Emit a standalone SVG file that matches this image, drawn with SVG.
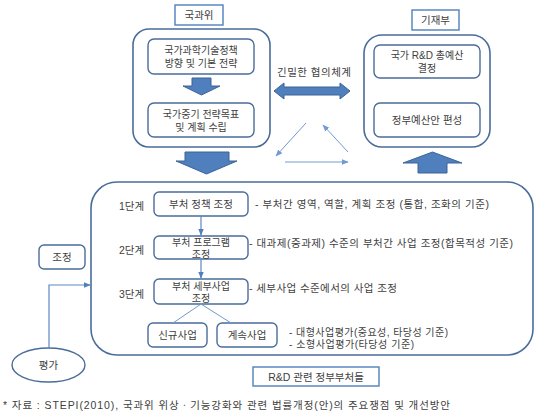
<svg xmlns="http://www.w3.org/2000/svg" width="542" height="416" viewBox="0 0 542 416">
<style>
text{font-family:"Liberation Sans","Noto Sans CJK KR",sans-serif;font-size:10.5px;fill:#404040}
.c{text-anchor:middle}
.s{font-size:10px}
.big{fill:#fff;stroke:#4a6c9b;stroke-width:1.6}
.inner{fill:#fff;stroke:#4a6c9b;stroke-width:1.4}
.lbl{fill:#fff;stroke:#4f81bd;stroke-width:1.4}
.blk{fill:#4f7fbd;stroke:#3d6496;stroke-width:1}
.thin{fill:none;stroke:#6f9bd0;stroke-width:1}
.ln{fill:none;stroke:#5a88c4;stroke-width:1.2}
</style>
<defs>
<marker id="ah" viewBox="0 0 10 10" refX="9" refY="5" markerWidth="7" markerHeight="7" orient="auto" markerUnits="userSpaceOnUse"><path d="M0,1 L10,5 L0,9 z" fill="#6f9bd0"/></marker>
<marker id="ah2" viewBox="0 0 10 10" refX="9" refY="5" markerWidth="7" markerHeight="7" orient="auto" markerUnits="userSpaceOnUse"><path d="M0,1 L10,5 L0,9 z" fill="#4f7fbd"/></marker>
</defs>

<g id="label-kukgwawi"><rect class="lbl" x="175" y="5" width="48" height="20"/><text class="c" x="199" y="19">국과위</text></g>
<g id="label-gijaebu"><rect class="lbl" x="412" y="10" width="47" height="20"/><text class="c" x="435.5" y="24">기재부</text></g>

<g id="kukgwawi-box"><rect class="big" x="133" y="29" width="137" height="118" rx="16"/></g>
<g id="node-policy"><rect class="inner" x="148" y="39" width="106" height="35" rx="6"/><text class="c s" x="201" y="54">국가과학기술정책</text><text class="c s" x="201" y="66.5">방향 및 기본 전략</text></g>
<g id="node-midterm"><rect class="inner" x="148" y="103" width="106" height="34" rx="6"/><text class="c s" x="201" y="118">국가중기 전략목표</text><text class="c s" x="201" y="130.5">및 계획 수립</text></g>

<g id="gijaebu-box"><rect class="big" x="364" y="35" width="126" height="112" rx="18"/></g>
<g id="node-total"><rect class="inner" x="374" y="45" width="106" height="33" rx="6"/><text class="c s" x="427" y="59">국가 R&amp;D 총예산</text><text class="c s" x="427" y="71.5">결정</text></g>
<g id="node-budget"><rect class="inner" x="374" y="103" width="106" height="34" rx="6"/><text class="c" x="427" y="124">정부예산안 편성</text></g>

<g id="depts-box"><rect class="big" x="91" y="182" width="442" height="173" rx="26"/></g>
<g id="label-depts"><rect class="lbl" x="253" y="367" width="126" height="19"/><text class="c" x="316" y="380.5">R&amp;D 관련 정부부처들</text></g>

<g id="stage1"><text x="119" y="210">1단계</text><rect class="inner" x="154" y="192" width="94" height="24" rx="5"/><text class="c" x="201" y="207.5">부처 정책 조정</text><text x="255" y="207.5" textLength="234">- 부처간 영역, 역할, 계획 조정 (통합, 조화의 기준)</text></g>
<g id="stage2"><text x="119" y="254">2단계</text><rect class="inner" x="154" y="236" width="94" height="23" rx="5"/><text class="c s" x="201" y="246">부처 프로그램</text><text class="c s" x="201" y="257.5">조정</text><text x="249" y="247" textLength="264">- 대과제(중과제) 수준의 부처간 사업 조정(합목적성 기준)</text></g>
<g id="stage3"><text x="119" y="298">3단계</text><rect class="inner" x="154" y="279" width="94" height="25" rx="5"/><text class="c s" x="201" y="290">부처 세부사업</text><text class="c s" x="201" y="301.5">조정</text><text x="249" y="292" textLength="148">- 세부사업 수준에서의 사업 조정</text></g>
<g id="node-new"><rect class="inner" x="148" y="323" width="59" height="24" rx="5"/><text class="c" x="177.5" y="339">신규사업</text></g>
<g id="node-cont"><rect class="inner" x="217" y="323" width="60" height="24" rx="5"/><text class="c" x="247" y="339">계속사업</text></g>
<g id="eval-notes"><text class="s" x="289" y="335.5" textLength="159">- 대형사업평가(중요성, 타당성 기준)</text><text class="s" x="289" y="347.5" textLength="125">- 소형사업평가(타당성 기준)</text></g>

<g id="node-adjust"><rect class="inner" x="39" y="245" width="46" height="24" rx="5"/><text class="c" x="62" y="261">조정</text></g>
<g id="node-eval"><ellipse cx="48.5" cy="365" rx="36.5" ry="17" fill="#fff" stroke="#4a6c9b" stroke-width="1.4"/><text class="c" x="48.5" y="369">평가</text></g>

<text id="coop-label" x="277" y="76" textLength="74">긴밀한 협의체계</text>

<g id="connectors">
<path class="blk" d="M192,78 H211 V86 H220 L201.5,95 L183,86 H192 Z"/>
<path class="blk" d="M185,152 H229 V161 H237 L206.5,174 L176,161 H185 Z"/>
<path class="blk" d="M418,173 V163 H403 L432.5,152 L462,163 H447 V173 Z"/>
<path class="blk" d="M274,91 L284,83 V87 H340 V83 L350,91 L340,99 V95 H284 V99 Z"/>
<line class="thin" x1="306" y1="123" x2="276" y2="156" marker-end="url(#ah)"/>
<line class="thin" x1="348" y1="152" x2="323" y2="125" marker-end="url(#ah)"/>
<line class="thin" x1="285" y1="162" x2="348" y2="162" marker-end="url(#ah)"/>
<line class="ln" x1="201" y1="216" x2="201" y2="235" marker-end="url(#ah2)"/>
<line class="ln" x1="201" y1="259" x2="201" y2="278" marker-end="url(#ah2)"/>
<path class="thin" d="M173,323 L201,304 L231,323"/>
<path class="ln" d="M49,348 V285 H90" marker-end="url(#ah2)"/>
</g>

<text id="source" x="3" y="409" textLength="447">* 자료 : STEPI(2010), 국과위 위상ㆍ기능강화와 관련 법률개정(안)의 주요쟁점 및 개선방안</text>
</svg>
